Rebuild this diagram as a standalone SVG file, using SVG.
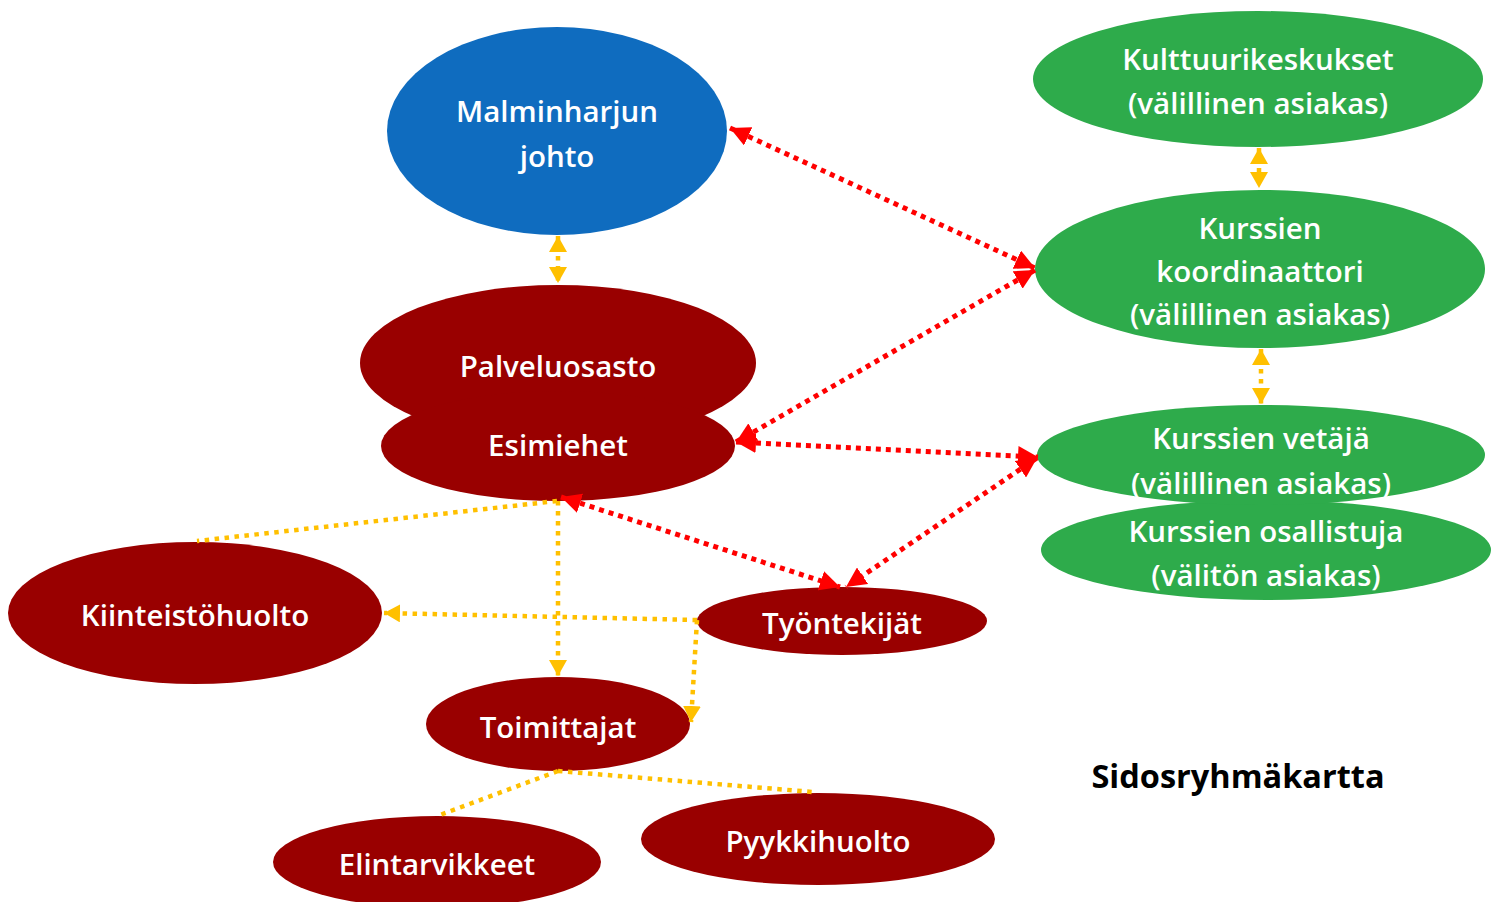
<svg xmlns="http://www.w3.org/2000/svg" width="1496" height="902" viewBox="0 0 1496 902">
  <style>
    .blue { fill: #0F6CBF; }
    .red { fill: #990000; }
    .green { fill: #2EAB4B; }
    .lbl { font-family: "Open Sans", "Liberation Sans", sans-serif; font-size: 29.5px; font-weight: 600; fill: #ffffff; text-anchor: middle; dominant-baseline: central; }
    .title { font-family: "Open Sans", "Liberation Sans", sans-serif; font-size: 32.5px; font-weight: 700; fill: #000000; text-anchor: middle; dominant-baseline: central; }
    .rl { fill: none; stroke: #FF0000; stroke-width: 5; stroke-dasharray: 5 5; }
    .yl { fill: none; stroke: #FFC000; stroke-width: 4.5; stroke-dasharray: 4.5 5.5; }
  </style>
  <defs>
    <marker id="redHead" viewBox="0 0 10 10" refX="10" refY="5" markerWidth="20" markerHeight="20" markerUnits="userSpaceOnUse" orient="auto-start-reverse">
      <path d="M0,0 L10,5 L0,10 Z" fill="#FF0000"/>
    </marker>
    <marker id="yelHead" viewBox="0 0 10 10" refX="10" refY="5" markerWidth="16" markerHeight="18" markerUnits="userSpaceOnUse" orient="auto-start-reverse" preserveAspectRatio="none">
      <path d="M0,0 L10,5 L0,10 Z" fill="#FFC000"/>
    </marker>
  </defs>
  <rect width="1496" height="902" fill="#ffffff"/>

  <!-- stakeholder nodes -->
  <g id="johto">
    <ellipse class="blue" cx="557" cy="131" rx="170" ry="104"/>
    <text class="lbl" x="557" y="110">Malminharjun</text>
    <text class="lbl" x="557" y="155">johto</text>
  </g>
  <g id="palveluosasto">
    <ellipse class="red" cx="558" cy="363" rx="198" ry="78"/>
    <text class="lbl" x="558" y="365">Palveluosasto</text>
  </g>
  <g id="esimiehet">
    <ellipse class="red" cx="558" cy="446" rx="177" ry="55"/>
    <text class="lbl" x="558" y="444">Esimiehet</text>
  </g>
  <g id="kiinteistohuolto">
    <ellipse class="red" cx="195" cy="613" rx="187" ry="71"/>
    <text class="lbl" x="195" y="614">Kiinteistöhuolto</text>
  </g>
  <g id="tyontekijat">
    <ellipse class="red" cx="842" cy="621" rx="145" ry="34"/>
    <text class="lbl" x="842" y="622">Työntekijät</text>
  </g>
  <g id="toimittajat">
    <ellipse class="red" cx="558" cy="724" rx="132" ry="47"/>
    <text class="lbl" x="558" y="726">Toimittajat</text>
  </g>
  <g id="elintarvikkeet">
    <ellipse class="red" cx="437" cy="862" rx="164" ry="46"/>
    <text class="lbl" x="437" y="863">Elintarvikkeet</text>
  </g>
  <g id="pyykkihuolto">
    <ellipse class="red" cx="818" cy="839" rx="177" ry="46"/>
    <text class="lbl" x="818" y="840">Pyykkihuolto</text>
  </g>
  <g id="kulttuurikeskukset">
    <ellipse class="green" cx="1258" cy="79" rx="225" ry="68"/>
    <text class="lbl" x="1258" y="58">Kulttuurikeskukset</text>
    <text class="lbl" x="1258" y="102">(välillinen asiakas)</text>
  </g>
  <g id="koordinaattori">
    <ellipse class="green" cx="1260" cy="269" rx="225" ry="79"/>
    <text class="lbl" x="1260" y="227">Kurssien</text>
    <text class="lbl" x="1260" y="270">koordinaattori</text>
    <text class="lbl" x="1260" y="313">(välillinen asiakas)</text>
  </g>
  <g id="osallistuja">
    <ellipse class="green" cx="1266" cy="550" rx="225" ry="50"/>
    <text class="lbl" x="1266" y="530">Kurssien osallistuja</text>
    <text class="lbl" x="1266" y="574">(välitön asiakas)</text>
  </g>
  <g id="vetaja">
    <ellipse class="green" cx="1261" cy="455" rx="224" ry="50"/>
    <text class="lbl" x="1261" y="437">Kurssien vetäjä</text>
    <text class="lbl" x="1261" y="482">(välillinen asiakas)</text>
  </g>

  <!-- relationships -->
  <g id="connectors">
    <!-- red: two-way links -->
    <line class="rl" x1="730" y1="128" x2="1035" y2="268" marker-start="url(#redHead)" marker-end="url(#redHead)"/>
    <line class="rl" x1="1035" y1="270" x2="736" y2="442" marker-start="url(#redHead)" marker-end="url(#redHead)"/>
    <line class="rl" x1="736" y1="442" x2="1038" y2="457" marker-start="url(#redHead)" marker-end="url(#redHead)"/>
    <line class="rl" x1="1037" y1="458" x2="846" y2="587" marker-start="url(#redHead)" marker-end="url(#redHead)"/>
    <line class="rl" x1="561" y1="497" x2="840" y2="587" marker-start="url(#redHead)" marker-end="url(#redHead)"/>
    <!-- yellow: two-way links -->
    <line class="yl" x1="558" y1="236" x2="558" y2="283" marker-start="url(#yelHead)" marker-end="url(#yelHead)"/>
    <line class="yl" x1="1259" y1="148" x2="1259" y2="188" marker-start="url(#yelHead)" marker-end="url(#yelHead)"/>
    <line class="yl" x1="1261" y1="349" x2="1261" y2="404" marker-start="url(#yelHead)" marker-end="url(#yelHead)"/>
    <!-- yellow: one-way and plain links -->
    <line class="yl" x1="557" y1="501" x2="197" y2="541"/>
    <line class="yl" x1="558" y1="501" x2="558" y2="676" marker-end="url(#yelHead)"/>
    <line class="yl" x1="697" y1="620" x2="384" y2="613" marker-end="url(#yelHead)"/>
    <line class="yl" x1="697" y1="620" x2="691" y2="722" marker-end="url(#yelHead)"/>
    <line class="yl" x1="558" y1="771" x2="440" y2="815"/>
    <line class="yl" x1="558" y1="771" x2="813" y2="792"/>
  </g>

  <text class="title" x="1238" y="775">Sidosryhmäkartta</text>
</svg>
